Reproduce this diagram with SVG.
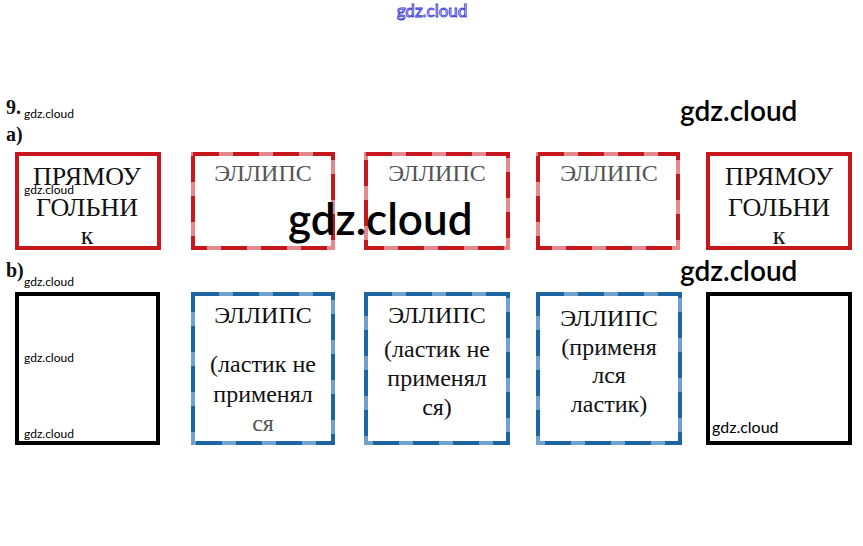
<svg xmlns="http://www.w3.org/2000/svg" width="863" height="546" viewBox="0 0 863 546">
<style>
.bg{fill:#fff}
.box{fill:none;stroke-width:4}
.red{stroke:#c8161d}
.redl{stroke:#e48a8e}
.redd{stroke:#c8161d;stroke-dasharray:26 14}
.blk{stroke:#000}
.bluel{stroke:#6fa2cf}
.blued{stroke:#1d64a3;stroke-dasharray:26 14}
.t{font-family:"Liberation Serif","DejaVu Serif",serif;font-size:24px;fill:#111;text-anchor:middle}
.big{font-size:26px}
.tg{fill:#555}
.lbl{font-family:"Liberation Serif","DejaVu Serif",serif;font-size:20px;font-weight:bold;fill:#111}
.wm{font-family:Lato,"Open Sans",sans-serif;fill:#000}
</style>
<rect class="bg" x="0" y="0" width="863" height="546"/>
<text x="432" y="17" text-anchor="middle" class="wm" style="font-size:17px;fill:#fff;stroke:#3a3ad8;stroke-width:0.9">gdz.cloud</text>
<text class="lbl" x="6" y="114">9.</text>
<text class="wm" x="24" y="118" style="font-size:12px">gdz.cloud</text>
<text class="lbl" x="6" y="141">a)</text>
<text class="lbl" x="6" y="277">b)</text>
<g id="a1">
<rect class="box red" x="17" y="154" width="142" height="94"/>
<text class="t big" x="87" y="185">ПРЯМОУ</text>
<text class="t big" x="87" y="216">ГОЛЬНИ</text>
<text class="t big" x="87" y="244">к</text>
</g>
<g id="a2">
<rect class="box redl" x="193" y="154" width="140" height="94"/>
<rect class="box redd" x="193" y="154" width="140" height="94"/>
<text class="t tg" x="263" y="181">ЭЛЛИПС</text>
</g>
<g id="a3">
<rect class="box redl" x="366" y="154" width="142" height="94"/>
<rect class="box redd" x="366" y="154" width="142" height="94"/>
<text class="t tg" x="437" y="181">ЭЛЛИПС</text>
</g>
<g id="a4">
<rect class="box redl" x="538" y="154" width="140" height="94"/>
<rect class="box redd" x="538" y="154" width="140" height="94"/>
<text class="t tg" x="609" y="181">ЭЛЛИПС</text>
</g>
<g id="a5">
<rect class="box red" x="708" y="154" width="142" height="94"/>
<text class="t big" x="779" y="185">ПРЯМОУ</text>
<text class="t big" x="779" y="216">ГОЛЬНИ</text>
<text class="t big" x="779" y="244">к</text>
</g>
<g id="b1">
<rect class="box blk" x="17" y="294" width="141" height="149"/>
</g>
<g id="b2">
<rect class="box bluel" x="193" y="294" width="140" height="149"/>
<rect class="box blued" x="193" y="294" width="140" height="149"/>
<text class="t" x="263" y="323">ЭЛЛИПС</text>
<text class="t" x="263" y="372">(ластик не</text>
<text class="t" x="263" y="402">применял</text>
<text class="t tg" x="263" y="431">ся</text>
</g>
<g id="b3">
<rect class="box bluel" x="366" y="294" width="142" height="149"/>
<rect class="box blued" x="366" y="294" width="142" height="149"/>
<text class="t" x="437" y="323">ЭЛЛИПС</text>
<text class="t" x="437" y="357">(ластик не</text>
<text class="t" x="437" y="386">применял</text>
<text class="t" x="437" y="415">ся)</text>
</g>
<g id="b4">
<rect class="box bluel" x="538" y="294" width="142" height="149"/>
<rect class="box blued" x="538" y="294" width="142" height="149"/>
<text class="t" x="609" y="326">ЭЛЛИПС</text>
<text class="t" x="609" y="355">(применя</text>
<text class="t" x="609" y="383">лся</text>
<text class="t" x="609" y="412">ластик)</text>
</g>
<g id="b5">
<rect class="box blk" x="708" y="294" width="142" height="149"/>
</g>
<g id="connectors"></g>
<text class="wm" x="24" y="194" style="font-size:12px">gdz.cloud</text>
<text class="wm" x="288" y="235" style="font-size:44px;font-weight:600">gdz.cloud</text>
<text class="wm" x="680" y="121" style="font-size:28px;font-weight:600">gdz.cloud</text>
<text class="wm" x="680" y="281" style="font-size:28px;font-weight:600">gdz.cloud</text>
<text class="wm" x="24" y="286" style="font-size:12px">gdz.cloud</text>
<text class="wm" x="24" y="362" style="font-size:12px">gdz.cloud</text>
<text class="wm" x="24" y="438" style="font-size:12px">gdz.cloud</text>
<text class="wm" x="712" y="433" style="font-size:16px">gdz.cloud</text>
</svg>
